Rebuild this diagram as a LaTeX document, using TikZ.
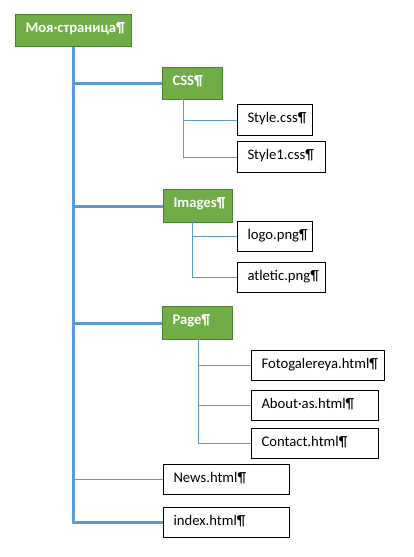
\documentclass[tikz,border=0pt]{standalone}
\usepackage{fontspec}
\setmainfont{Carlito}
\definecolor{grfill}{HTML}{70AD47}
\definecolor{grline}{HTML}{507E32}
\definecolor{blu}{HTML}{5B9BD5}
\newcommand\mybx[2]{\makebox[#1][l]{#2}}
\tikzset{
  basebox/.style={anchor=north west, inner xsep=7.5pt, inner ysep=0pt, text height=13.5pt, line width=0.75pt, font=\fontsize{11pt}{13pt}\selectfont},
  gbox/.style={basebox, fill=grfill, draw=grline, text=white, font=\fontsize{11pt}{13pt}\selectfont\bfseries},
  wbox/.style={basebox, fill=white, draw=black},
  thick link/.style={draw=blu, line width=2.25pt},
  thin link/.style={draw=blu, line width=0.75pt},
}
\begin{document}
\begin{tikzpicture}[x=0.75pt, y=-0.75pt]
\useasboundingbox[fill=white] (0,0) rectangle (414,557);
% nodes
\node[gbox, text depth=10.5pt] (root) at (15,14) {\mybx{72pt}{Моя·страница¶}};
\node[gbox, text depth=10.5pt] (css) at (162,67) {\mybx{30pt}{CSS¶}};
\node[wbox, text depth=9.75pt] (style) at (237,104) {\mybx{41.25pt}{Style.css¶}};
\node[wbox, text depth=9.75pt] (style1) at (237,141) {\mybx{51pt}{Style1.css¶}};
\node[gbox, text depth=11.25pt] (images) at (163,189) {\mybx{36.75pt}{Images¶}};
\node[wbox, text depth=9pt] (logo) at (237,221) {\mybx{41.25pt}{logo.png¶}};
\node[wbox, text depth=9pt] (atletic) at (237,262) {\mybx{51pt}{atletic.png¶}};
\node[gbox, text depth=11.25pt] (page) at (162,306) {\mybx{37.5pt}{Page¶}};
\node[wbox, text depth=9pt] (foto) at (251,350) {\mybx{84.75pt}{Fotogalereya.html¶}};
\node[wbox, text depth=9pt] (about) at (251,390) {\mybx{80.25pt}{About·as.html¶}};
\node[wbox, text depth=9pt] (contact) at (251,428) {\mybx{80.25pt}{Contact.html¶}};
\node[wbox, text depth=9pt] (news) at (163,464) {\mybx{79.5pt}{News.html¶}};
\node[wbox, text depth=9pt] (index) at (163,507) {\mybx{79.5pt}{index.html¶}};
% child trunk tops
\coordinate (cssT) at (183,99);
\coordinate (imgT) at (192,222);
\coordinate (pageT) at (198,339);
% main trunk and branches
\draw[thick link] (root.south) -- (root.south |- index.west) -- (index.west);
\draw[thick link] (root.south |- css.west) -- (css.west);
\draw[thick link] (root.south |- images.west) -- (images.west);
\draw[thick link] (root.south |- page.west) -- (page.west);
\draw[thin link] (root.south |- news.west) -- (news.west);
% css children
\draw[thin link] (cssT) |- (style1.west);
\draw[thin link] (cssT |- style.west) -- (style.west);
% images children
\draw[thin link] (imgT) |- (atletic.west);
\draw[thin link] (imgT |- logo.west) -- (logo.west);
% page children
\draw[thin link] (pageT) |- (contact.west);
\draw[thin link] (pageT |- foto.west) -- (foto.west);
\draw[thin link] (pageT |- about.west) -- (about.west);
\end{tikzpicture}
\end{document}
